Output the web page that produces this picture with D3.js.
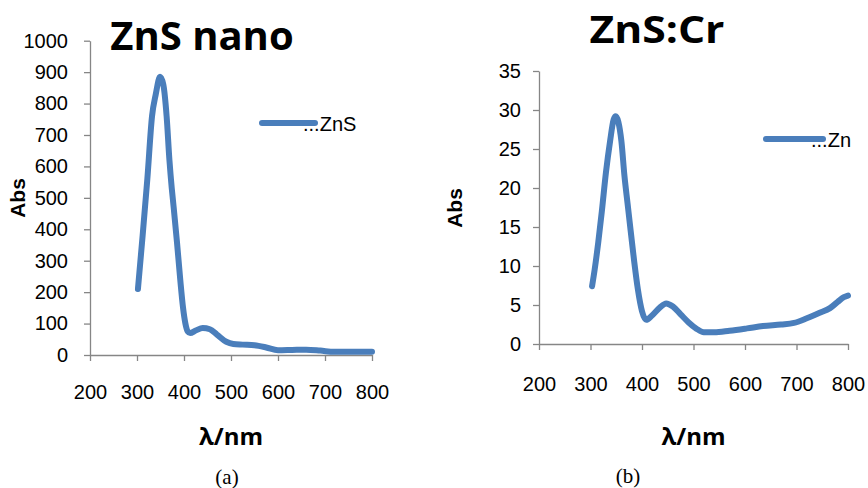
<!DOCTYPE html>
<html>
<head>
<meta charset="utf-8">
<script src="https://cdn.jsdelivr.net/npm/d3@7"></script>
<style>
  body { margin: 0; background: #fff; }
  svg { display: block; }
</style>
</head>
<body>
<svg id="chart" width="868" height="488"></svg>
<script>

// ---- data ----
var xTicks = [200, 300, 400, 500, 600, 700, 800];

var znsTicks = [0, 100, 200, 300, 400, 500, 600, 700, 800, 900, 1000];
var znsWave = [302, 312, 322, 332, 340, 349, 356, 363, 369, 374, 378, 385, 392, 398, 403, 408, 413,
  425, 440, 455, 470, 490, 505, 525, 550, 575, 600, 630, 660, 690, 720, 760, 800];
var znsAbs = [210, 380, 560, 760, 830, 885, 860, 760, 620, 530, 470, 360, 240, 150, 100, 75, 70,
  78, 86, 82, 65, 42, 35, 33, 31, 24, 15, 16, 17, 14, 10, 10, 10];

var crTicks = [0, 5, 10, 15, 20, 25, 30, 35];
var crWave = [303, 308, 315, 322, 330, 338, 345, 349, 354, 360, 366, 372, 378, 385, 392, 400, 408,
  420, 435, 447, 460, 475, 490, 505, 520, 540, 570, 604, 635, 670, 695, 720, 745, 765, 780, 792, 800];
var crAbs = [7.4, 9.5, 13, 17, 22, 26, 28.8, 29.2, 28.5, 26, 21.5, 18, 14.5, 10.5, 7, 4.2, 3.1,
  3.7, 4.7, 5.2, 4.8, 3.8, 2.8, 2.0, 1.5, 1.5, 1.7, 2.0, 2.3, 2.5, 2.7, 3.3, 4.0, 4.6, 5.4, 6.0, 6.2];

var svg = d3.select("#chart");
var lineColor = "#4a7ebb";
var axisColor = "#868686";

function panel(opt) {
  var x = d3.scaleLinear().domain([200, 800]).range([opt.left, opt.right]);
  var y = d3.scaleLinear().domain([0, opt.yMax]).range([opt.bottom, opt.top]);

  var g = svg.append("g");

  // y axis
  g.append("g")
      .attr("transform", "translate(" + opt.left + ",0)")
      .call(d3.axisLeft(y).tickValues(opt.yTicks).tickFormat(d3.format("d"))
        .tickSize(6).tickSizeOuter(0).tickPadding(opt.yPad));
  // x axis
  g.append("g")
      .attr("transform", "translate(0," + opt.bottom + ")")
      .call(d3.axisBottom(x).tickValues(xTicks).tickFormat(d3.format("d"))
        .tickSize(6).tickSizeOuter(0).tickPadding(opt.xPad));

  g.selectAll(".domain, .tick line").attr("stroke", axisColor).attr("stroke-width", 1.3);
  g.selectAll(".tick text")
      .attr("fill", "#000")
      .style("font-family", "'Liberation Sans', Arial, sans-serif")
      .style("font-size", "20px");

  var data = d3.zip(opt.wave, opt.abs);
  g.append("path")
      .datum(data)
      .attr("fill", "none")
      .attr("stroke", lineColor)
      .attr("stroke-width", 6)
      .attr("stroke-linecap", "round")
      .attr("stroke-linejoin", "round")
      .attr("d", d3.line()
        .x(function(d) { return x(d[0]); })
        .y(function(d) { return y(d[1]); })
        .curve(d3.curveMonotoneX));

  // title
  var title = g.append("text")
      .attr("x", opt.titleX)
      .attr("y", opt.titleY)
      .attr("text-anchor", "middle")
      .style("font-family", "'Open Sans', sans-serif")
      .style("font-weight", "bold")
      .style("font-size", opt.titleSize + "px")
      .text(opt.title);
  if (opt.titleLen) title.attr("textLength", opt.titleLen).attr("lengthAdjust", "spacingAndGlyphs");

  // axis labels
  g.append("text")
      .attr("transform", "translate(" + opt.absX + "," + opt.absY + ") rotate(-90)")
      .attr("text-anchor", "middle")
      .attr("dy", "0.35em")
      .style("font-family", "'Liberation Sans', Arial, sans-serif")
      .style("font-weight", "bold")
      .style("font-size", "21px")
      .text("Abs");

  g.append("text")
      .attr("x", (opt.left + opt.right) / 2)
      .attr("y", 437)
      .attr("dy", "0.35em")
      .attr("text-anchor", "middle")
      .style("font-family", "'Open Sans', sans-serif")
      .style("font-weight", "bold")
      .style("font-size", "24px")
      .text("λ/nm");

  // legend
  g.append("line")
      .attr("x1", opt.legX).attr("x2", opt.legX + opt.legW)
      .attr("y1", opt.legY).attr("y2", opt.legY)
      .attr("stroke", lineColor)
      .attr("stroke-width", 6)
      .attr("stroke-linecap", "round");
  g.append("text")
      .attr("x", opt.legX + opt.legW - 12)
      .attr("y", opt.legY + 8)
      .style("font-family", "'Liberation Sans', Arial, sans-serif")
      .style("font-size", "20px")
      .text(opt.legend);

  // caption
  g.append("text")
      .attr("x", opt.capX)
      .attr("y", opt.capY)
      .attr("dy", "0.35em")
      .attr("text-anchor", "middle")
      .style("font-family", "'Liberation Serif', serif")
      .style("font-size", "21px")
      .text(opt.caption);
}

panel({
  left: 90, right: 372, top: 40.7, bottom: 355, yMax: 1000, yTicks: znsTicks,
  yPad: 16, xPad: 24,
  wave: znsWave, abs: znsAbs,
  title: "ZnS nano", titleX: 202, titleY: 50, titleSize: 40,
  absX: 18, absY: 198,
  legX: 262, legW: 53, legY: 123, legend: "...ZnS",
  caption: "(a)", capX: 227, capY: 477
});

panel({
  left: 539, right: 848, top: 71, bottom: 344, yMax: 35, yTicks: crTicks,
  yPad: 12, xPad: 27,
  wave: crWave, abs: crAbs,
  title: "ZnS:Cr", titleX: 657, titleY: 43, titleSize: 37, titleLen: 135,
  absX: 455, absY: 208,
  legX: 766, legW: 57, legY: 139, legend: "...Zn",
  caption: "(b)", capX: 628, capY: 476
});

</script>
</body>
</html>
